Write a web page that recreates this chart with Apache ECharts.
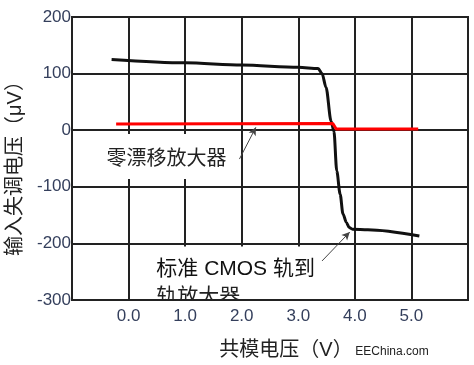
<!DOCTYPE html>
<html><head><meta charset="utf-8">
<script src="https://cdn.jsdelivr.net/npm/echarts@6/dist/echarts.min.js"></script>
<style>html,body{margin:0;padding:0;background:#fff}#c{width:474px;height:365px}</style>
</head><body><div id="c"></div>
<script>
// Data
var cmosX = [-0.3, 1.0, 2.0, 3.0, 3.35, 3.42, 3.49, 3.58, 3.63, 3.68, 3.74, 3.79, 3.85, 3.90, 3.96, 4.23, 5.14];
var cmosY = [125, 119, 115, 111, 109, 100, 76, 16, -2, -72, -113, -148, -163, -172, -175, -176, -187];
var zeroX = [-0.22, 3.61, 3.67, 5.12];
var zeroY = [11, 12, 2, 2];
var xTickLabels = ['0.0', '1.0', '2.0', '3.0', '4.0', '5.0'];
var yTickValues = [200, 100, 0, -100, -200, -300];
var xAxisName = '共模电压（V）';
var yAxisName = '输入失调电压（μV）';
var zeroLabel = '零漂移放大器';
var cmosLabel1 = '标准 CMOS 轨到';
var cmosLabel2 = '轨放大器';
var watermark = 'EEChina.com';
// annotation anchor points in data coordinates
var zeroArrow = [[1.96, -51], [2.25, 5]];
var cmosArrow = [[3.42, -231], [3.91, -180]];
var zeroTextPos = [-0.39, -51];
var cmosText1Pos = [0.49, -246];
var cmosText2Pos = [0.49, -295];

function pairs(xs, ys) { return xs.map(function (x, i) { return [x, ys[i]]; }); }

var chart = echarts.init(document.getElementById('c'));
var cjk = '"Liberation Sans", "Noto Sans CJK SC", sans-serif';
var tickColor = '#343f5c';
chart.setOption({
  animation: false,
  grid: { left: 72, right: 6, top: 17, bottom: 65, show: true, borderColor: '#222', borderWidth: 2, backgroundColor: 'transparent' },
  xAxis: {
    type: 'value', min: -1, max: 6, interval: 1,
    axisLine: { show: false }, axisTick: { show: false },
    splitLine: { show: true, lineStyle: { color: '#222', width: 2 } },
    axisLabel: {
      margin: 8, fontSize: 17, color: tickColor, fontFamily: '"Liberation Sans", Arial, sans-serif',
      formatter: function (v) { var i = Math.round(v); return (i >= 0 && i < xTickLabels.length) ? xTickLabels[i] : ''; }
    }
  },
  yAxis: {
    type: 'value', min: -300, max: 200, interval: 100,
    axisLine: { show: false }, axisTick: { show: false },
    splitLine: { show: true, lineStyle: { color: '#222', width: 2 } },
    axisLabel: {
      margin: 1, fontSize: 17, color: tickColor, fontFamily: '"Liberation Sans", Arial, sans-serif',
      formatter: function (v) { return yTickValues.indexOf(v) >= 0 ? String(v) : ''; }
    }
  },
  series: [
    {
      type: 'line', data: pairs(cmosX, cmosY), showSymbol: false, smooth: 0.3, smoothMonotone: 'x',
      lineStyle: { color: '#111', width: 3 }, z: 3,
      markLine: {
        silent: true, symbol: ['none', 'arrow'], symbolSize: [6, 8],
        lineStyle: { color: '#444', width: 1, type: 'solid' }, label: { show: false },
        data: [
          [{ coord: zeroArrow[0] }, { coord: zeroArrow[1] }],
          [{ coord: cmosArrow[0] }, { coord: cmosArrow[1] }]
        ]
      }
    },
    {
      type: 'line', data: pairs(zeroX, zeroY), showSymbol: false,
      lineStyle: { color: '#ff0000', width: 3 }, z: 4
    }
  ]
});

function px(p) { return chart.convertToPixel({ gridIndex: 0 }, p); }
var zt = px(zeroTextPos), c1 = px(cmosText1Pos), c2 = px(cmosText2Pos);
var bottomY = px([0, -300])[1];
chart.setOption({
  graphic: [
    // white boxes behind the annotations (hide grid lines like the original)
    { type: 'rect', z: 1, shape: { x: zt[0] - 6, y: zt[1] - 25, width: 137, height: 45 }, style: { fill: '#fff' } },
    { type: 'rect', z: 1, shape: { x: c1[0] - 7, y: c1[1] - 23, width: 174, height: bottomY - (c1[1] - 23) - 1 }, style: { fill: '#fff' } },
    { type: 'text', x: 15, y: (17 + bottomY) / 2 + 5, rotation: Math.PI / 2,
      style: { text: yAxisName, font: '20px ' + cjk, fill: '#222', align: 'center', verticalAlign: 'middle' } },
    { type: 'text', x: 286, y: 350,
      style: { text: xAxisName, font: '20px ' + cjk, fill: '#222', align: 'center', verticalAlign: 'middle' } },
    { type: 'text', x: 392, y: 352,
      style: { text: watermark, font: '12px "Liberation Sans", Arial, sans-serif', fill: '#222', align: 'center', verticalAlign: 'middle' } },
    { type: 'text', x: zt[0], y: zt[1], z: 10,
      style: { text: zeroLabel, font: '20px ' + cjk, fill: '#222', align: 'left', verticalAlign: 'middle' } },
    { type: 'text', x: c1[0], y: c1[1], z: 10,
      style: { text: cmosLabel1, font: '21px ' + cjk, fill: '#111', align: 'left', verticalAlign: 'middle' } },
    { type: 'text', x: c2[0], y: c2[1], z: 10,
      style: { text: cmosLabel2, font: '21px ' + cjk, fill: '#222', align: 'left', verticalAlign: 'middle' } },
    { type: 'rect', z: 11, shape: { x: c2[0] - 4, y: bottomY + 1, width: 100, height: 6 }, style: { fill: '#fff' } }
  ]
});
</script></body></html>
